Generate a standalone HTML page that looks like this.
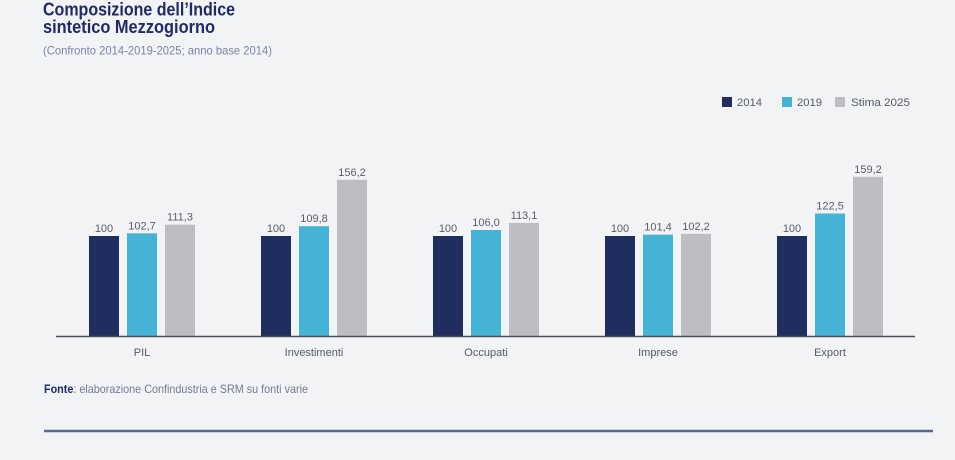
<!DOCTYPE html>
<html>
<head>
<meta charset="utf-8">
<style>
html,body{margin:0;padding:0;background:#f2f3f5;}
svg{display:block;}
text{font-family:"Liberation Sans",sans-serif;}
</style>
</head>
<body>
<svg width="955" height="460" viewBox="0 0 955 460" xmlns="http://www.w3.org/2000/svg">
<rect width="955" height="460" fill="#f2f3f5"/>
<!-- Title -->
<text x="43" y="15.5" font-size="18" font-weight="bold" fill="#1f2b66" textLength="192" lengthAdjust="spacingAndGlyphs">Composizione dell’Indice</text>
<text x="43" y="33" font-size="18" font-weight="bold" fill="#1f2b66" textLength="172" lengthAdjust="spacingAndGlyphs">sintetico Mezzogiorno</text>
<text x="43" y="54.5" font-size="12" fill="#7c82a6" textLength="229" lengthAdjust="spacingAndGlyphs">(Confronto 2014-2019-2025; anno base 2014)</text>

<!-- Legend -->
<rect x="722" y="97" width="10" height="10" fill="#1f2d5f"/>
<text x="737" y="106" font-size="11" fill="#555a66" textLength="25" lengthAdjust="spacingAndGlyphs">2014</text>
<rect x="782" y="97" width="10" height="10" fill="#45b3d6"/>
<text x="797" y="106" font-size="11" fill="#555a66" textLength="25" lengthAdjust="spacingAndGlyphs">2019</text>
<rect x="835" y="97" width="10" height="10" fill="#bdbec2"/>
<text x="851" y="106" font-size="11" fill="#555a66" textLength="59" lengthAdjust="spacingAndGlyphs">Stima 2025</text>

<!-- Bars: baseline y=336, 1px per unit -->
<g>
<!-- PIL center 142 -->
<rect x="89" y="236" width="30" height="100" fill="#1f2d5f"/>
<rect x="127" y="233.3" width="30" height="102.7" fill="#45b3d6"/>
<rect x="165" y="224.7" width="30" height="111.3" fill="#bdbec2"/>
<!-- Investimenti center 313.8 -->
<rect x="261" y="236" width="30" height="100" fill="#1f2d5f"/>
<rect x="299" y="226.2" width="30" height="109.8" fill="#45b3d6"/>
<rect x="337" y="179.8" width="30" height="156.2" fill="#bdbec2"/>
<!-- Occupati center 485.6 -->
<rect x="433" y="236" width="30" height="100" fill="#1f2d5f"/>
<rect x="471" y="230" width="30" height="106" fill="#45b3d6"/>
<rect x="509" y="222.9" width="30" height="113.1" fill="#bdbec2"/>
<!-- Imprese center 657.4 -->
<rect x="605" y="236" width="30" height="100" fill="#1f2d5f"/>
<rect x="643" y="234.6" width="30" height="101.4" fill="#45b3d6"/>
<rect x="681" y="233.8" width="30" height="102.2" fill="#bdbec2"/>
<!-- Export center 829.2 -->
<rect x="777" y="236" width="30" height="100" fill="#1f2d5f"/>
<rect x="815" y="213.5" width="30" height="122.5" fill="#45b3d6"/>
<rect x="853" y="176.8" width="30" height="159.2" fill="#bdbec2"/>
</g>

<!-- Value labels -->
<g font-size="11" fill="#5a5e66" text-anchor="middle">
<text x="104" y="232">100</text>
<text x="142" y="229.3">102,7</text>
<text x="180" y="220.7">111,3</text>
<text x="276" y="232">100</text>
<text x="314" y="222.2">109,8</text>
<text x="352" y="175.8">156,2</text>
<text x="448" y="232">100</text>
<text x="486" y="226">106,0</text>
<text x="524" y="218.9">113,1</text>
<text x="620" y="232">100</text>
<text x="658" y="230.6">101,4</text>
<text x="696" y="229.8">102,2</text>
<text x="792" y="232">100</text>
<text x="830" y="209.5">122,5</text>
<text x="868" y="172.8">159,2</text>
</g>

<!-- Axis -->
<line x1="56" y1="336.5" x2="915" y2="336.5" stroke="#4a4d55" stroke-width="1.5"/>

<!-- Category labels -->
<g font-size="11" fill="#555a66" text-anchor="middle">
<text x="142" y="356">PIL</text>
<text x="314" y="356">Investimenti</text>
<text x="486" y="356">Occupati</text>
<text x="658" y="356">Imprese</text>
<text x="830" y="356">Export</text>
</g>

<!-- Source -->
<text x="44" y="393" font-size="12" fill="#737896" textLength="264" lengthAdjust="spacingAndGlyphs"><tspan font-weight="bold" fill="#1f2b66">Fonte</tspan>: elaborazione Confindustria e SRM su fonti varie</text>

<!-- Bottom rule -->
<line x1="44" y1="431" x2="933" y2="431" stroke="#5b6795" stroke-width="2.5"/>
</svg>
</body>
</html>
